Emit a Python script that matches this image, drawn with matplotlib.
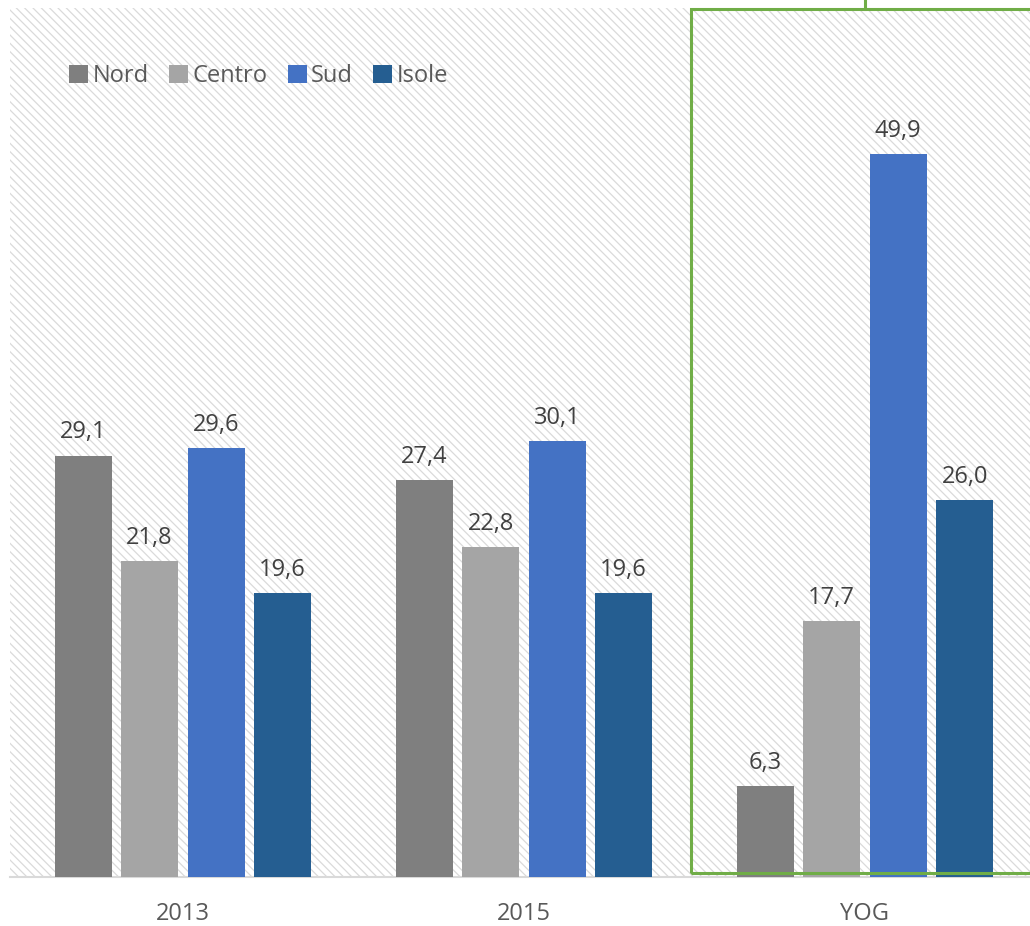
import numpy as np
import matplotlib.pyplot as plt
from matplotlib.patches import Rectangle

plt.rcParams['font.family'] = ['Open Sans', 'DejaVu Sans']
plt.rcParams['hatch.color'] = '#dadada'
plt.rcParams['hatch.linewidth'] = 0.9

# data
groups = ['2013', '2015', 'YOG']
series = ['Nord', 'Centro', 'Sud', 'Isole']
nord = [29.1, 27.4, 6.3]
centro = [21.8, 22.8, 17.7]
sud = [29.6, 30.1, 49.9]
isole = [19.6, 19.6, 26.0]
colors = ['#7f7f7f', '#a5a5a5', '#4472c4', '#255e91']

fig = plt.figure(figsize=(10.3, 9.26), dpi=100)
ax = fig.add_axes([10 / 1030, 49 / 926, 1020 / 1030, 869 / 926])
ax.patch.set_facecolor('white')
ax.patch.set_hatch('\\\\\\\\')
ax.patch.set_edgecolor('#dadada')

x = np.arange(len(groups))
width = 0.167
step = 0.195
for i, (name, vals) in enumerate(zip(series, [nord, centro, sud, isole])):
    pos = x + (i - 1.5) * step
    bars = ax.bar(pos, vals, width, color=colors[i], label=name, zorder=3)
    for b, v in zip(bars, vals):
        ax.annotate(f'{v:.1f}'.replace('.', ','), (b.get_x() + b.get_width() / 2, v),
                    xytext=(0, 8), textcoords='offset points', ha='center', va='bottom',
                    fontsize=17, color='#404040')

ax.set_xlim(-0.507, 2.484)
ax.set_ylim(0, 60)
ax.set_xticks(x)
ax.set_xticklabels(groups, fontsize=17, color='#595959')
ax.tick_params(axis='x', length=0, pad=18)
ax.set_yticks([])
for s in ['top', 'right', 'left']:
    ax.spines[s].set_visible(False)
ax.spines['bottom'].set_color('#d9d9d9')
ax.spines['bottom'].set_linewidth(1.5)

# highlight box around YOG
green = '#70ad47'
ax.add_patch(Rectangle((1.49, 0.28), 1.01, 59.66, fill=False, edgecolor=green,
                       linewidth=2.2, zorder=4, clip_on=False))
ax.plot([2.0, 2.0], [59.94, 60.7], color=green, linewidth=2.2, clip_on=False, zorder=4)

leg = ax.legend(loc='center left', bbox_to_anchor=(0.058, 0.922), ncol=4, frameon=False,
                fontsize=17, handlelength=0.8, handleheight=0.8, handletextpad=0.2,
                columnspacing=0.85, labelcolor='#595959', borderaxespad=0, borderpad=0)

fig.savefig('out.png', dpi=100)
